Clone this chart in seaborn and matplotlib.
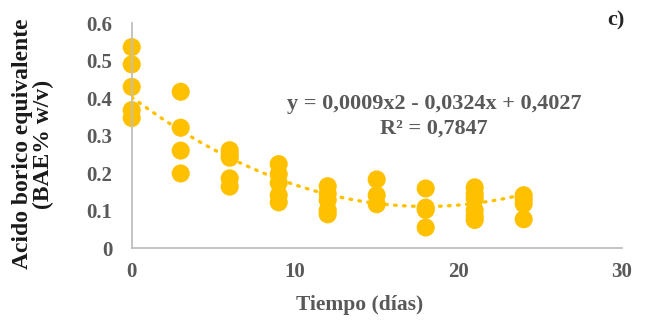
import numpy as np
import pandas as pd
import matplotlib
matplotlib.use("Agg")
import matplotlib.pyplot as plt
import seaborn as sns

# Data
days = [0, 0, 0, 0, 0,
        3, 3, 3, 3,
        6, 6, 6, 6, 6,
        9, 9, 9, 9, 9,
        12, 12, 12, 12, 12,
        15, 15, 15,
        18, 18, 18, 18,
        21, 21, 21, 21, 21, 21,
        24, 24, 24, 24]
bae = [0.536, 0.49, 0.43, 0.368, 0.347,
       0.417, 0.321, 0.26, 0.199,
       0.261, 0.25, 0.241, 0.186, 0.164,
       0.224, 0.197, 0.174, 0.141, 0.122,
       0.165, 0.145, 0.128, 0.101, 0.09,
       0.183, 0.141, 0.117,
       0.159, 0.108, 0.102, 0.055,
       0.162, 0.145, 0.132, 0.101, 0.085, 0.075,
       0.141, 0.13, 0.118, 0.077]
coef = [0.0009, -0.0324, 0.4027]
xticks = [0, 10, 20, 30]
yticks = [0, 0.1, 0.2, 0.3, 0.4, 0.5, 0.6]
ytick_labels = ["0", "0.1", "0.2", "0.3", "0.4", "0.5", "0.6"]

df = pd.DataFrame({"Tiempo": days, "BAE": bae})

sns.set_theme(style="white")
plt.rcParams["font.family"] = ["Liberation Serif", "DejaVu Serif"]
plt.rcParams["font.weight"] = "bold"

color = "#FFC000"
gray = "#595959"
axc = "#BFBFBF"

fig = plt.figure(figsize=(6.54, 3.26), dpi=100)
ax = fig.add_axes([0.2014, 0.239, 0.7492, 0.690])

tx = np.linspace(0, 24, 200)
ty = coef[0] * tx**2 + coef[1] * tx + coef[2]
trend = pd.DataFrame({"x": tx, "y": ty})
sns.lineplot(data=trend, x="x", y="y", ax=ax, color=color, lw=2.4,
             linestyle=(0, (0.5, 2.2)), dash_capstyle="round", zorder=3)
sns.scatterplot(data=df, x="Tiempo", y="BAE", ax=ax, color=color, s=170,
                edgecolor="none", zorder=2)

ax.set_xlim(0, 30)
ax.set_ylim(0, 0.6)
ax.set_xticks(xticks)
ax.set_xticklabels([str(v) for v in xticks])
ax.set_yticks(yticks)
ax.set_yticklabels(ytick_labels)
ax.margins(0)

for s in ["top", "right"]:
    ax.spines[s].set_visible(False)
for s in ["left", "bottom"]:
    ax.spines[s].set_color(axc)
    ax.spines[s].set_linewidth(1.3)
ax.tick_params(axis="both", colors=axc, length=5, width=1.3, direction="out",
               labelcolor=gray, labelsize=15)
ax.tick_params(axis="y", pad=9)
ax.tick_params(axis="x", pad=5)
for lab in ax.get_xticklabels() + ax.get_yticklabels():
    lab.set_fontweight("bold")
for c in ax.collections:
    c.set_clip_on(False)

ax.set_xlabel("Tiempo (días)", fontsize=15.5, fontweight="bold", color=gray,
              va="center")
ax.xaxis.set_label_coords(0.466, -0.253)
ax.set_ylabel("Acido borico equivalente\n(BAE% w/v)", fontsize=17, fontweight="bold",
              color="#1a1a1a", linespacing=1.0, va="center")
ax.yaxis.set_label_coords(-0.201, 0.462)

ax.text(0.617, 0.585, "y = 0,0009x2 - 0,0324x + 0,4027\nR² = 0,7847", transform=ax.transAxes,
        ha="center", va="center", fontsize=16, fontweight="bold", color=gray,
        linespacing=1.3)
fig.text(0.942, 0.937, "c)", ha="center", va="center", fontsize=16, fontweight="bold",
         color="#262626")

fig.savefig("out.png", dpi=100)
